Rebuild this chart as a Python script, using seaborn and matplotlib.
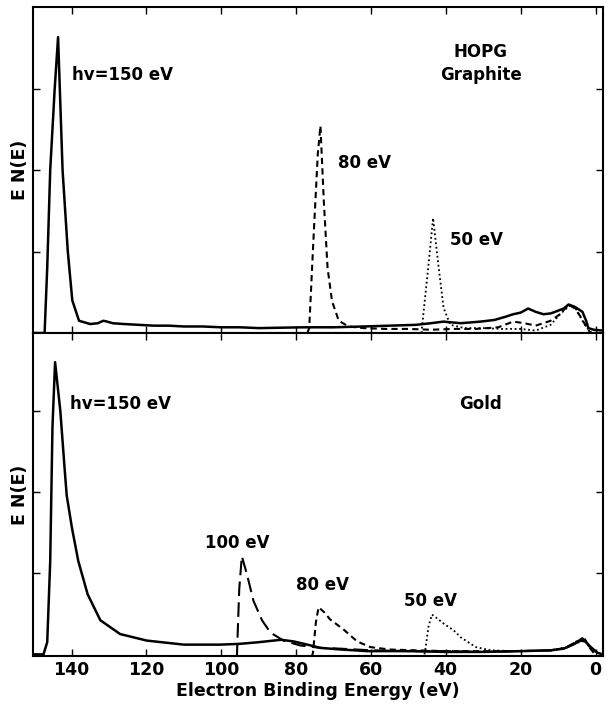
import numpy as np
import pandas as pd
import matplotlib
matplotlib.use("Agg")
import matplotlib.pyplot as plt
import seaborn as sns

sns.set_style("ticks")
plt.rcParams['font.family'] = ['DejaVu Sans']
plt.rcParams['font.weight'] = 'bold'
for k in ['text.color', 'axes.labelcolor', 'xtick.color', 'ytick.color', 'axes.edgecolor']:
    plt.rcParams[k] = 'black'

# ---------------- Data ----------------
# HOPG graphite, hv = 150 eV (solid)
g150_x = [150, 147.2, 146.5, 145.7, 144.5, 143.6, 142.4, 141.0, 139.8, 138.0, 135.0, 133.0, 131.5, 130.5, 129.0,
          126, 122, 118, 114, 110, 105, 100, 95, 90, 84, 78, 70, 62, 55, 48, 44, 40.6, 36, 30.7, 27, 24,
          22, 20, 18, 16, 13.9, 12, 10.2, 8.5, 7.2, 5.5, 3.5, 2.5, 1.9, 0.5, -1.9]
g150_y = [0, 0.0, 0.8, 2.0, 3.0, 3.63, 2.0, 1.0, 0.4, 0.15, 0.11, 0.12, 0.15, 0.14, 0.12,
          0.11, 0.1, 0.09, 0.09, 0.08, 0.08, 0.07, 0.07, 0.06, 0.065, 0.07, 0.07, 0.08, 0.09, 0.1, 0.12, 0.14, 0.12, 0.14, 0.16, 0.2,
          0.23, 0.25, 0.30, 0.26, 0.23, 0.24, 0.27, 0.3, 0.35, 0.32, 0.26, 0.15, 0.06, 0.04, 0.03]
# HOPG graphite, hv = 80 eV (dashed)
g80_x = [77.0, 76.5, 75.3, 74.2, 73.5, 72.6, 71.6, 70.4, 68.6, 66, 62, 56, 50, 44, 38, 32, 26, 22, 19, 16,
         12, 9.5, 7.2, 5.5, 4.0, 2.5, 1.4]
g80_y = [0.0, 0.06, 1.21, 2.2, 2.54, 1.62, 0.8, 0.39, 0.15, 0.08, 0.06, 0.05, 0.05, 0.04, 0.05, 0.05, 0.07, 0.14, 0.12, 0.09,
         0.15, 0.23, 0.35, 0.3, 0.2, 0.08, 0.0]
# HOPG graphite, hv = 50 eV (dotted)
g50_x = [46.5, 46.3, 44.7, 43.4, 41.9, 40.6, 38.8, 35, 30, 25, 20, 16, 12, 9.5, 6.5, 5, 3.5, 2, 1.0]
g50_y = [0.0, 0.1, 0.8, 1.41, 0.8, 0.31, 0.1, 0.06, 0.06, 0.05, 0.05, 0.03, 0.1, 0.23, 0.35, 0.28, 0.15, 0.05, 0.0]

# Gold, hv = 150 eV (solid)
a150_x = [150, 147.5, 146.5, 145.7, 145.1, 144.4, 143.0, 142.0, 141.3, 139.9, 138.2, 135.7, 132.3, 127.0, 119.9,
          110, 100.3, 95, 90, 84, 80.7, 77, 73.5, 68, 61, 50, 40, 30, 20, 12, 8.5, 6, 4, 2.7, 1.5, -0.5, -1.9]
a150_y = [0, 0.0, 0.15, 1.15, 2.8, 3.6, 3.0, 2.38, 1.96, 1.56, 1.15, 0.74, 0.42, 0.25, 0.17,
          0.12, 0.12, 0.13, 0.15, 0.18, 0.16, 0.12, 0.08, 0.06, 0.04, 0.04, 0.03, 0.03, 0.04, 0.05, 0.07, 0.12, 0.17, 0.16, 0.1, 0.02, 0.0]
# Gold, hv = 100 eV (long dashed)
a100_x = [96.0, 95.8, 95.2, 94.5, 93.1, 91.4, 89.1, 86.9, 83.4, 78.9, 73.5, 68, 60, 50, 40, 30, 20, 12, 8, 5, 3.5, 2, 0.5]
a100_y = [-0.05, 0.0, 0.8, 1.21, 0.98, 0.66, 0.42, 0.27, 0.17, 0.11, 0.08, 0.07, 0.05, 0.04, 0.04, 0.03, 0.04, 0.05, 0.08, 0.16, 0.2, 0.12, 0.02]
# Gold, hv = 80 eV (dashed)
a80_x = [75.8, 75.5, 74.7, 74.0, 72.5, 70.9, 67.4, 63.7, 60.2, 55, 48, 40, 30, 20, 12, 8, 5, 3, 1.5, 0.5]
a80_y = [-0.03, 0.02, 0.4, 0.58, 0.52, 0.43, 0.31, 0.16, 0.09, 0.06, 0.05, 0.04, 0.04, 0.04, 0.05, 0.08, 0.16, 0.2, 0.08, 0.02]
# Gold, hv = 50 eV (dotted)
a50_x = [45.7, 45.5, 44.6, 43.7, 42.5, 40.6, 38, 36, 32, 28, 22, 16, 12, 8, 5, 3, 1.5, 0.5]
a50_y = [0.0, 0.05, 0.35, 0.49, 0.45, 0.38, 0.3, 0.21, 0.09, 0.05, 0.04, 0.04, 0.05, 0.08, 0.14, 0.18, 0.08, 0.02]

x_ticks = [140, 120, 100, 80, 60, 40, 20, 0]
x_tick_labels = ["140", "120", "100", "80", "60", "40", "20", "0"]
y_ticks = [1, 2, 3]

# ---------------- Figure ----------------
fig = plt.figure(figsize=(6.08, 7.13), dpi=100)
ax_top = fig.add_axes([33/608, 1-333/713, 570/608, 326/713])
ax_bot = fig.add_axes([33/608, 1-656/713, 570/608, 323/713])

lw = 1.6
def draw(ax, xs, ys, dash=None, width=lw):
    df = pd.DataFrame({"E": xs, "I": ys})
    kw = dict(color="black", linewidth=width, estimator=None, sort=False, ax=ax)
    line = sns.lineplot(data=df, x="E", y="I", **kw).lines[-1]
    if dash is not None:
        line.set_dashes(dash)

draw(ax_top, g150_x, g150_y, width=1.8)
draw(ax_top, g80_x, g80_y, dash=(3, 2), width=1.5)
draw(ax_top, g50_x, g50_y, dash=(1, 1.5), width=1.3)

draw(ax_bot, a150_x, a150_y, width=1.8)
draw(ax_bot, a100_x, a100_y, dash=(7, 3), width=1.5)
draw(ax_bot, a80_x, a80_y, dash=(3, 2), width=1.5)
draw(ax_bot, a50_x, a50_y, dash=(1, 1.5), width=1.3)

for ax in (ax_top, ax_bot):
    ax.set_xlim(150.3, -2.0)
    ax.set_xticks(x_ticks)
    ax.set_yticks(y_ticks)
    ax.tick_params(direction="in", length=5, width=1.0, top=True, right=True,
                   labelleft=False, labelsize=12.5, colors="black")
    for sp in ax.spines.values():
        sp.set_linewidth(1.5)
        sp.set_visible(True)
        sp.set_color("black")
    ax.set_ylabel("E N(E)", fontsize=12.5, fontweight="bold", labelpad=3, color="black")

ax_top.set_ylim(0, 4.0)
ax_bot.set_ylim(-0.02, 3.96)
ax_top.tick_params(labelbottom=False)
ax_top.set_xlabel("")
ax_bot.set_xticklabels(x_tick_labels, fontweight="bold")
ax_bot.set_xlabel("Electron Binding Energy (eV)", fontsize=12.5, fontweight="bold", labelpad=2, color="black")

tk = dict(fontsize=12, fontweight="bold", va="center", color="black")
ax_top.text(139.8, 3.17, "hv=150 eV", ha="left", **tk)
ax_top.text(30.7, 3.45, "HOPG", ha="center", **tk)
ax_top.text(30.7, 3.17, "Graphite", ha="center", **tk)
ax_top.text(68.7, 2.09, "80 eV", ha="left", **tk)
ax_top.text(38.8, 1.14, "50 eV", ha="left", **tk)

ax_bot.text(140.4, 3.09, "hv=150 eV", ha="left", **tk)
ax_bot.text(30.7, 3.09, "Gold", ha="center", **tk)
ax_bot.text(104.3, 1.37, "100 eV", ha="left", **tk)
ax_bot.text(80.0, 0.85, "80 eV", ha="left", **tk)
ax_bot.text(51.3, 0.66, "50 eV", ha="left", **tk)

fig.savefig("out.png", dpi=100)
